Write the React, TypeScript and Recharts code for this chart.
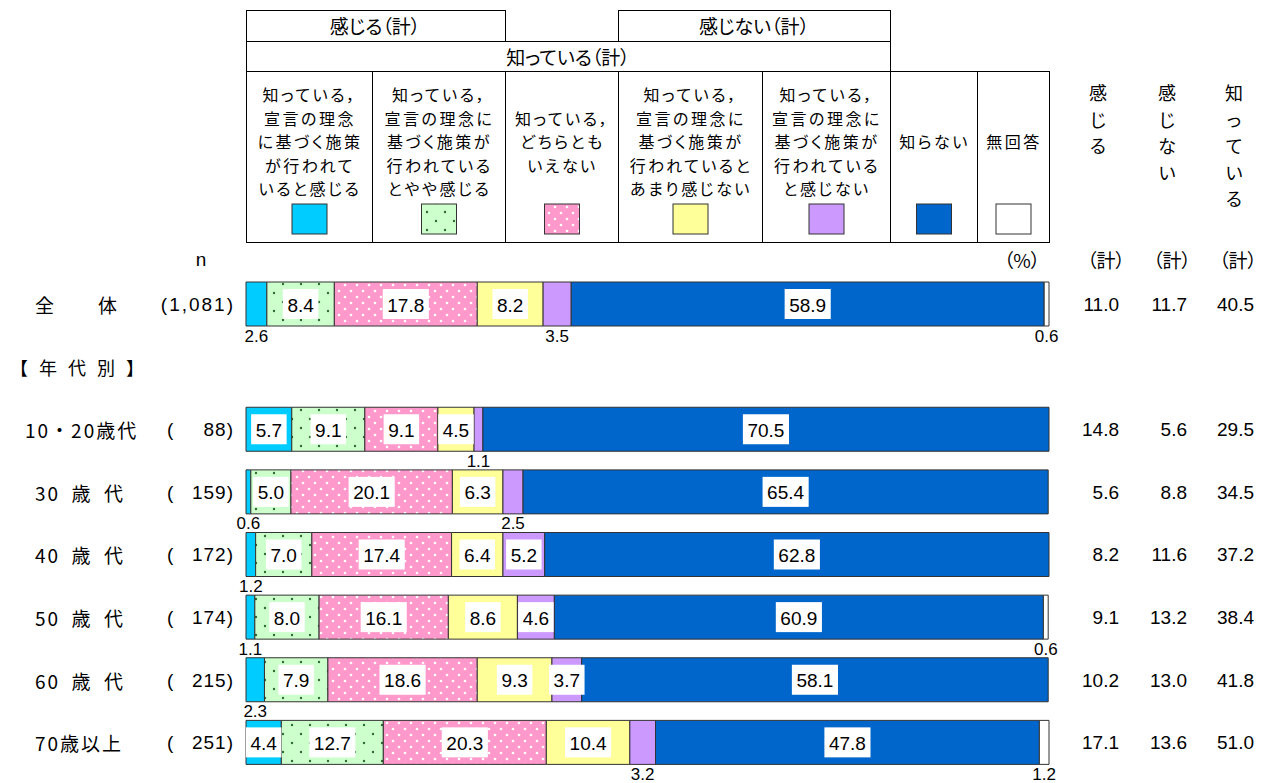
import React from 'react';
import { BarChart, Bar, XAxis, YAxis, LabelList } from 'recharts';

const categories = ['全　　体', '【年代別】', '10・20歳代', '30\u2002歳\u2002代', '40\u2002歳\u2002代', '50\u2002歳\u2002代', '60\u2002歳\u2002代', '70歳以上'];
const sampleSizes = [1081, null, 88, 159, 172, 174, 215, 251];

const kanjiru = [2.6, null, 5.7, 0.6, 1.2, 1.1, 2.3, 4.4];
const yayaKanjiru = [8.4, null, 9.1, 5.0, 7.0, 8.0, 7.9, 12.7];
const dochiramo = [17.8, null, 9.1, 20.1, 17.4, 16.1, 18.6, 20.3];
const amariKanjinai = [8.2, null, 4.5, 6.3, 6.4, 8.6, 9.3, 10.4];
const kanjinai = [3.5, null, 1.1, 2.5, 5.2, 4.6, 3.7, 3.2];
const shiranai = [58.9, null, 70.5, 65.4, 62.8, 60.9, 58.1, 47.8];
const mukaitou = [0.6, null, 0.0, 0.0, 0.0, 0.6, 0.0, 1.2];

const kanjiruTotal = [11.0, null, 14.8, 5.6, 8.2, 9.1, 10.2, 17.1];
const kanjinaiTotal = [11.7, null, 5.6, 8.8, 11.6, 13.2, 13.0, 13.6];
const shitteiruTotal = [40.5, null, 29.5, 34.5, 37.2, 38.4, 41.8, 51.0];

const rows = categories.map((name, i) => ({
  name,
  kanjiru: kanjiru[i],
  yayaKanjiru: yayaKanjiru[i],
  dochiramo: dochiramo[i],
  amariKanjinai: amariKanjinai[i],
  kanjinai: kanjinai[i],
  shiranai: shiranai[i],
  mukaitou: mukaitou[i],
}));

const FONT = "'Liberation Sans', 'Noto Sans CJK JP', sans-serif";
const JP = "'Noto Sans CJK JP', sans-serif";
const PALT = { fontFeatureSettings: '"palt"' } as React.CSSProperties;
const W = 1266;
const H = 783;

const series = [
  { key: 'kanjiru', fill: '#00CCFF', first: 0, lines: ['知っている，', '宣言の理念', 'に基づく施策', 'が行われて', 'いると感じる'] },
  { key: 'yayaKanjiru', fill: 'url(#greenDots)', first: 0, lines: ['知っている，', '宣言の理念に', '基づく施策が', '行われている', 'とやや感じる'] },
  { key: 'dochiramo', fill: 'url(#pinkDots)', first: 1, lines: ['知っている，', 'どちらとも', 'いえない'] },
  { key: 'amariKanjinai', fill: '#FFFF99', first: 0, lines: ['知っている，', '宣言の理念に', '基づく施策が', '行われていると', 'あまり感じない'] },
  { key: 'kanjinai', fill: '#CC99FF', first: 0, lines: ['知っている，', '宣言の理念に', '基づく施策が', '行われている', 'と感じない'] },
  { key: 'shiranai', fill: '#0066CC', first: 2, lines: ['知らない'] },
  { key: 'mukaitou', fill: '#FFFFFF', first: 2, lines: ['無回答'] },
];

// legend table column edges
const colEdges = [246, 372, 505, 618, 762, 890, 977, 1049];

const makeLabel = (alwaysOutside: boolean) => (props: any) => {
  const { x, y, width, height, value } = props;
  if (value === null || value === undefined) return null;
  const text = Number(value).toFixed(1);
  const cx = Number(x) + Number(width) / 2;
  if (alwaysOutside || Number(value) < 3.6) {
    return (
      <text x={cx} y={Number(y) + Number(height) + 10} textAnchor="middle" dominantBaseline="central" fontSize={17} fontFamily={FONT} fill="#000">
        {text}
      </text>
    );
  }
  const cy = Number(y) + Number(height) / 2;
  const bw = (text.length - 1) * 10.6 + 5.3 + 9;
  return (
    <g>
      <rect x={cx - bw / 2} y={cy - 15} width={bw} height={30} fill="#fff" />
      <text x={cx} y={cy + 1} textAnchor="middle" dominantBaseline="central" fontSize={19} fontFamily={FONT} fill="#000">
        {text}
      </text>
    </g>
  );
};

const LeftTick = (props: any) => {
  const { y, payload } = props;
  const i = categories.indexOf(payload.value);
  const n = sampleSizes[i];
  const isGroup = i === 1;
  const nameX = isGroup ? 10 : i === 2 ? 25 : 35;
  return (
    <g fontFamily={FONT} fontSize={19} fill="#000">
      <text x={nameX} y={y} dominantBaseline="central" textAnchor="start" fontFamily={JP} fontSize={isGroup ? 18 : 19} letterSpacing={isGroup ? 11 : 2}>
        {payload.value}
      </text>
      {n !== null && n >= 1000 && (
        <text x={235} y={y} dominantBaseline="central" textAnchor="end" letterSpacing={2}>
          ({n.toLocaleString('en-US')})
        </text>
      )}
      {n !== null && n < 1000 && (
        <>
          <text x={167} y={y} dominantBaseline="central" textAnchor="start">(</text>
          <text x={234} y={y} dominantBaseline="central" textAnchor="end" letterSpacing={1}>{n})</text>
        </>
      )}
    </g>
  );
};

const RightTick = (props: any) => {
  const { y, payload } = props;
  const i = categories.indexOf(payload.value);
  if (kanjiruTotal[i] === null) return null;
  return (
    <g fontFamily={FONT} fontSize={19} fill="#000">
      <text x={1119} y={y} dominantBaseline="central" textAnchor="end">{(kanjiruTotal[i] as number).toFixed(1)}</text>
      <text x={1187} y={y} dominantBaseline="central" textAnchor="end">{(kanjinaiTotal[i] as number).toFixed(1)}</text>
      <text x={1254} y={y} dominantBaseline="central" textAnchor="end">{(shitteiruTotal[i] as number).toFixed(1)}</text>
    </g>
  );
};

const VerticalText = ({ x, chars }: { x: number; chars: string }) => (
  <g fontSize={18}>
    {chars.split('').map((c, j) => (
      <text key={j} x={x} y={92 + j * 26.5}>{c}</text>
    ))}
  </g>
);

function Header() {
  const lineY = [94, 117.5, 141, 164.5, 188];
  return (
    <svg width={W} height={H} style={{ position: 'absolute', left: 0, top: 0 }}>
      <defs>
        <pattern id="greenDots" width="18" height="18" patternUnits="userSpaceOnUse">
          <rect width="18" height="18" fill="#CCFFCC" />
          <circle cx="4" cy="5" r="1.2" fill="#2E6B2E" />
          <circle cx="13" cy="14" r="1.2" fill="#2E6B2E" />
        </pattern>
        <pattern id="pinkDots" width="12" height="12" patternUnits="userSpaceOnUse">
          <rect width="12" height="12" fill="#FF99CC" />
          <circle cx="3" cy="3" r="1.3" fill="#FFFFFF" />
          <circle cx="9" cy="9" r="1.3" fill="#FFFFFF" />
        </pattern>
      </defs>
      <g fill="none" stroke="#000" strokeWidth={1}>
        <rect x={246.5} y={10.5} width={259} height={31} />
        <rect x={618.5} y={10.5} width={272} height={31} />
        <rect x={246.5} y={41.5} width={644} height={30} />
        <rect x={246.5} y={71.5} width={803} height={171} />
        {colEdges.slice(1, -1).map((x) => (
          <line key={x} x1={x + 0.5} y1={71} x2={x + 0.5} y2={242} />
        ))}
      </g>
      <g fontFamily={JP} fontSize={19} fill="#000" textAnchor="middle" dominantBaseline="central" style={PALT}>
        <text x={375} y={25}>感じる（計）</text>
        <text x={754} y={25}>感じない（計）</text>
        <text x={568} y={56}>知っている（計）</text>
        {series.map((s, i) => {
          const cx = (colEdges[i] + colEdges[i + 1]) / 2;
          return (
            <g key={s.key}>
              {s.lines.map((t, j) => (
                <text key={j} x={cx + 1} y={lineY[s.first + j]} fontSize={16} letterSpacing={2.5}>{t}</text>
              ))}
              <rect x={cx - 17} y={204} width={35} height={30} fill={s.fill} stroke="#333" strokeWidth={1} />
            </g>
          );
        })}
        <VerticalText x={1098} chars="感じる" />
        <VerticalText x={1167} chars="感じない" />
        <VerticalText x={1234} chars="知っている" />
        <text x={201} y={259} fontFamily={FONT}>n</text>
        <text x={1022} y={259}>（%）</text>
        <text x={1106} y={259}>（計）</text>
        <text x={1172} y={259}>（計）</text>
        <text x={1238} y={259}>（計）</text>
      </g>
    </svg>
  );
}

export default function App() {
  return (
    <div style={{ position: 'absolute', left: 0, top: 0, width: W, height: H, background: '#fff', fontFamily: FONT }}>
      <Header />
      <div style={{ position: 'absolute', left: 0, top: 0 }}>
        <BarChart width={W} height={H} data={rows} layout="vertical" barSize={44} margin={{ top: 273, right: 0, bottom: 9, left: 0 }}>
          <XAxis type="number" domain={[0, 100]} hide />
          <YAxis yAxisId="left" type="category" dataKey="name" width={246} axisLine={false} tickLine={false} interval={0} tick={<LeftTick />} />
          <YAxis yAxisId="right" orientation="right" type="category" dataKey="name" width={217} axisLine={false} tickLine={false} interval={0} tick={<RightTick />} />
          {series.map((s, i) => (
            <Bar key={s.key} yAxisId="left" dataKey={s.key} stackId="a" fill={s.fill} stroke="#333" strokeWidth={1} isAnimationActive={false}>
              <LabelList dataKey={s.key} content={makeLabel(i === series.length - 1)} />
            </Bar>
          ))}
        </BarChart>
      </div>
    </div>
  );
}
